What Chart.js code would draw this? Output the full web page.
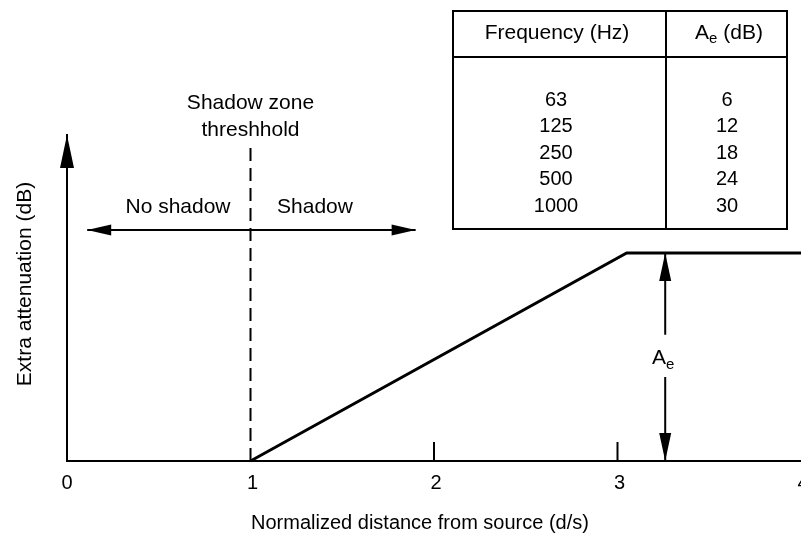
<!DOCTYPE html>
<html>
<head>
<meta charset="utf-8">
<script src="https://cdn.jsdelivr.net/npm/chart.js@4"></script>
<style>
  html, body { margin: 0; padding: 0; background: #fff; }
  #wrap { width: 801px; height: 537px; }
</style>
</head>
<body>
<div id="wrap"><canvas id="chart" width="801" height="537"></canvas></div>
<script>
// table values
const freqHz = [63, 125, 250, 500, 1000];
const aeDb = [6, 12, 18, 24, 30];

// x axis
const xTicks = [0, 1, 2, 3, 4];
const xMarks = [2, 3];

// attenuation curve (schematic, dB)
const curveX = [1, 3.05, 4];
const curveY = [0, 30, 30];

// shadow zone threshold line
const thresholdX = [1, 1];
const thresholdY = [0, 45.8];

// No shadow / Shadow double arrow
const zoneArrowX = [0.11, 1.9];
const zoneArrowY = [33.3, 33.3];

// Ae dimension arrow (gap for the label)
const aeArrowX = [3.26, 3.26, null, 3.26, 3.26];
const aeArrowY = [30, 18.2, null, 12.1, 0];

const FONT = "'Liberation Sans', Arial, sans-serif";

function pts(xs, ys) {
	return xs.map((x, i) => (x === null ? { x: null, y: null } : { x: x, y: ys[i] }));
}

function arrowHead(ctx, x, y, dx, dy, len, half) {
	// tip at (x,y), pointing in direction (dx,dy)
	const bx = x - dx * len, by = y - dy * len;
	ctx.beginPath();
	ctx.moveTo(x, y);
	ctx.lineTo(bx - dy * half, by + dx * half);
	ctx.lineTo(bx + dy * half, by - dx * half);
	ctx.closePath();
	ctx.fill();
}

function subText(ctx, parts, cx, cy) {
	// parts: [text, size, dy]
	let total = 0;
	parts.forEach(p => {
		ctx.font = p[1] + 'px ' + FONT;
		total += ctx.measureText(p[0]).width;
	});
	let x = cx - total / 2;
	ctx.textAlign = 'left';
	parts.forEach(p => {
		ctx.font = p[1] + 'px ' + FONT;
		ctx.fillText(p[0], x, cy + p[2]);
		x += ctx.measureText(p[0]).width;
	});
}

const annotations = {
	id: 'annotations',
	afterDraw(chart) {
		const ctx = chart.ctx;
		const xs = chart.scales.x, ys = chart.scales.y;
		const area = chart.chartArea;
		ctx.save();
		ctx.fillStyle = '#000';
		ctx.strokeStyle = '#000';

		// y axis arrow
		arrowHead(ctx, xs.getPixelForValue(0), area.top, 0, -1, 33, 7);

		// zone double arrow
		const zy = ys.getPixelForValue(zoneArrowY[0]);
		arrowHead(ctx, xs.getPixelForValue(zoneArrowX[0]), zy, -1, 0, 24, 5.5);
		arrowHead(ctx, xs.getPixelForValue(zoneArrowX[1]), zy, 1, 0, 24, 5.5);

		// Ae arrow heads
		const ax = xs.getPixelForValue(aeArrowX[0]);
		arrowHead(ctx, ax, ys.getPixelForValue(aeArrowY[0]), 0, -1, 28, 6);
		arrowHead(ctx, ax, ys.getPixelForValue(aeArrowY[4]), 0, 1, 28, 6);

		// inner tick marks
		ctx.lineWidth = 2;
		xMarks.forEach(v => {
			const px = xs.getPixelForValue(v);
			ctx.beginPath();
			ctx.moveTo(px, area.bottom);
			ctx.lineTo(px, area.bottom - 19);
			ctx.stroke();
		});

		// tick labels
		ctx.font = '20px ' + FONT;
		ctx.textAlign = 'center';
		ctx.textBaseline = 'middle';
		xTicks.forEach(v => {
			ctx.fillText(String(v), xs.getPixelForValue(v) + (v === 0 ? 0 : 2), area.bottom + 22);
		});

		// axis titles
		ctx.font = '20px ' + FONT;
		ctx.fillText('Normalized distance from source (d/s)', 420, 523);
		ctx.save();
		ctx.translate(25, 284);
		ctx.rotate(-Math.PI / 2);
		ctx.font = '21px ' + FONT;
		ctx.fillText('Extra attenuation (dB)', 0, 0);
		ctx.restore();

		// zone labels
		const tx = xs.getPixelForValue(thresholdX[0]);
		ctx.font = '21px ' + FONT;
		ctx.fillText('Shadow zone', tx, 103);
		ctx.fillText('threshhold', tx, 130);
		ctx.fillText('No shadow', 178, 207);
		ctx.fillText('Shadow', 315, 207);

		// Ae label
		subText(ctx, [['A', 21, 0], ['e', 15, 7]], ax - 2, 358);

		// inset table
		const tL = 453, tR = 787, tT = 11, tB = 229, tH = 57, tD = 666;
		ctx.lineWidth = 2;
		ctx.strokeRect(tL, tT, tR - tL, tB - tT);
		ctx.beginPath();
		ctx.moveTo(tL, tH); ctx.lineTo(tR, tH);
		ctx.moveTo(tD, tT); ctx.lineTo(tD, tB);
		ctx.stroke();
		ctx.textAlign = 'center';
		ctx.font = '21px ' + FONT;
		ctx.fillText('Frequency (Hz)', 557, 33);
		subText(ctx, [['A', 21, 0], ['e', 15, 6], [' (dB)', 21, 0]], 729, 33);
		ctx.textAlign = 'center';
		ctx.font = '20px ' + FONT;
		freqHz.forEach((f, i) => {
			const ry = 100 + i * 26.5;
			ctx.fillText(String(f), 556, ry);
			ctx.fillText(String(aeDb[i]), 727, ry);
		});
		ctx.restore();
	}
};

const ctx = document.getElementById('chart').getContext('2d');
const chart = new Chart(ctx, {
	type: 'scatter',
	data: {
		datasets: [{
			data: pts(curveX, curveY),
			showLine: true,
			borderColor: '#000',
			borderWidth: 3,
			pointRadius: 0,
			clip: false
		}, {
			data: pts(thresholdX, thresholdY),
			showLine: true,
			borderColor: '#000',
			borderWidth: 2,
			borderDash: [13, 7],
			pointRadius: 0,
			clip: false
		}, {
			data: pts(zoneArrowX, zoneArrowY),
			showLine: true,
			borderColor: '#000',
			borderWidth: 2,
			pointRadius: 0
		}, {
			data: pts(aeArrowX, aeArrowY),
			showLine: true,
			spanGaps: false,
			borderColor: '#000',
			borderWidth: 2,
			pointRadius: 0,
			clip: false
		}]
	},
	options: {
		responsive: false,
		animation: false,
		layout: { padding: { left: 67, right: 0, top: 135, bottom: 76 } },
		plugins: { legend: { display: false }, tooltip: { enabled: false } },
		scales: {
			x: {
				type: 'linear',
				min: 0,
				max: 4,
				ticks: { display: false },
				grid: { display: false, drawTicks: false },
				border: { display: true, color: '#000', width: 2 }
			},
			y: {
				type: 'linear',
				min: 0,
				max: 47,
				ticks: { display: false },
				grid: { display: false, drawTicks: false },
				border: { display: true, color: '#000', width: 2 }
			}
		}
	},
	plugins: [annotations]
});
</script>
</body>
</html>
